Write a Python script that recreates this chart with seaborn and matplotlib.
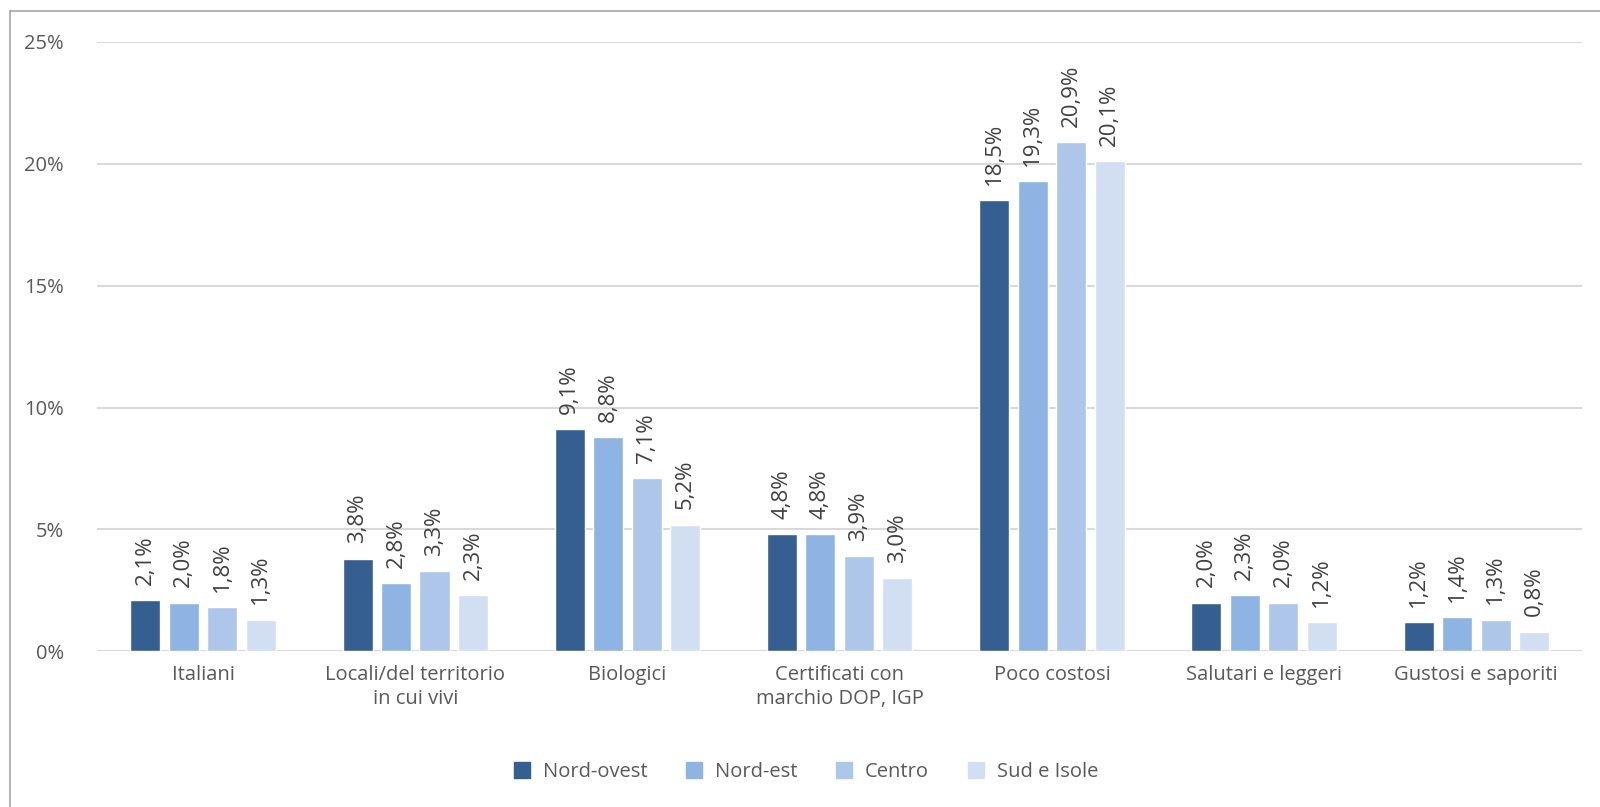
import pandas as pd
import matplotlib.pyplot as plt
import seaborn as sns
from matplotlib.lines import Line2D

# Data
categories = ['Italiani', 'Locali/del territorio\nin cui vivi', 'Biologici',
              'Certificati con\nmarchio DOP, IGP', 'Poco costosi',
              'Salutari e leggeri', 'Gustosi e saporiti']
regions = ['Nord-ovest', 'Nord-est', 'Centro', 'Sud e Isole']
nord_ovest = [2.1, 3.8, 9.1, 4.8, 18.5, 2.0, 1.2]
nord_est = [2.0, 2.8, 8.8, 4.8, 19.3, 2.3, 1.4]
centro = [1.8, 3.3, 7.1, 3.9, 20.9, 2.0, 1.3]
sud_isole = [1.3, 2.3, 5.2, 3.0, 20.1, 1.2, 0.8]
colors = ['#355F91', '#8EB4E3', '#ADC6EA', '#D2DFF2']

rows = []
for reg, vals in zip(regions, [nord_ovest, nord_est, centro, sud_isole]):
    for cat, v in zip(categories, vals):
        rows.append({'cat': cat, 'region': reg, 'value': v})
df = pd.DataFrame(rows)

sns.set_style('white')
plt.rcParams['font.family'] = ['Open Sans', 'DejaVu Sans']
text_col = '#595959'
fs = 14.5

fig = plt.figure(figsize=(16, 8.07), dpi=100)
ax = fig.add_axes([0.0606, 0.193, 0.9284, 0.755])

sns.barplot(data=df, x='cat', y='value', hue='region', hue_order=regions,
            order=categories, palette=colors, width=0.725, gap=0.22,
            saturation=1, ax=ax, legend=False)

for cont in ax.containers:
    ax.bar_label(cont, labels=[f'{b.get_height():.1f}%'.replace('.', ',') for b in cont],
                 rotation=90, padding=11, fontsize=16, color='#404040')

ax.set_ylim(0, 25)
ax.set_xlim(-0.5, len(categories) - 0.5)
ax.set_yticks([0, 5, 10, 15, 20, 25])
ax.set_yticklabels([f'{t}%' for t in [0, 5, 10, 15, 20, 25]])
ax.yaxis.grid(True, color='#D9D9D9', linewidth=1.5)
ax.set_axisbelow(True)
ax.tick_params(axis='both', length=0, labelsize=fs, labelcolor=text_col)
ax.tick_params(axis='y', pad=24)
ax.tick_params(axis='x', pad=10)
for lab in ax.get_xticklabels():
    lab.set_linespacing(1.25)
ax.set_xlabel('')
ax.set_ylabel('')
for s in ax.spines.values():
    s.set_visible(False)

handles = [Line2D([], [], marker='s', linestyle='', markersize=11,
                  markerfacecolor=c, markeredgecolor=c) for c in colors]
fig.legend(handles, regions, loc='center', bbox_to_anchor=(0.5, 0.043),
           ncol=4, frameon=False, fontsize=fs, labelcolor=text_col,
           handletextpad=0.05, columnspacing=1.3)

# outer chart border (left and top visible)
fig.add_artist(Line2D([10 / 1600, 10 / 1600], [0, 1 - 11 / 807], color='#A6A6A6',
                      linewidth=1.2, transform=fig.transFigure))
fig.add_artist(Line2D([10 / 1600, 1], [1 - 11 / 807, 1 - 11 / 807], color='#A6A6A6',
                      linewidth=1.2, transform=fig.transFigure))

fig.savefig('out.png', dpi=100)
